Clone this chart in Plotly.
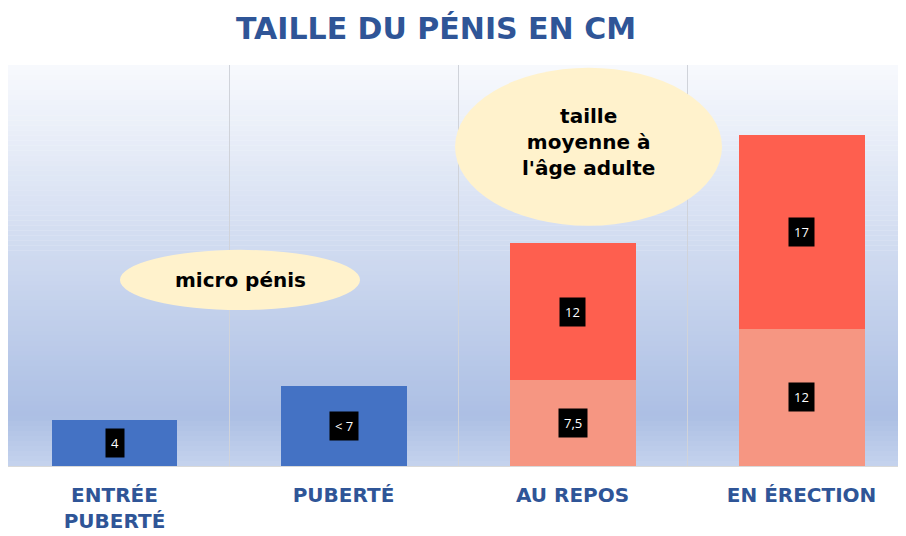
import plotly.graph_objects as go

# Data
categories = ["ENTRÉE<br>PUBERTÉ", "PUBERTÉ", "AU REPOS", "EN ÉRECTION"]
enfant_vals = [4, 7, 0, 0]
enfant_labels = ["4", "< 7", "", ""]
repos_vals = [0, 0, 7.5, 12]
repos_labels = ["", "", "7,5", "12"]
adulte_vals = [0, 0, 12, 17]
adulte_labels = ["", "", "12", "17"]

COLORS = {
    'blue': '#4472C4',
    'salmon': '#F69682',
    'red': '#FE5F4F',
    'title': '#2F5597',
    'bubble': '#FFF2CC',
}

fig = go.Figure()
for vals, col in [(enfant_vals, COLORS['blue']), (repos_vals, COLORS['salmon']), (adulte_vals, COLORS['red'])]:
    fig.add_trace(go.Bar(x=categories, y=vals, marker_color=col, marker_line_width=0,
                         width=0.55, showlegend=False, hoverinfo='skip'))

# value labels in black boxes, centred in each segment
offsets = [0] * len(categories)
for vals, labels in [(enfant_vals, enfant_labels), (repos_vals, repos_labels), (adulte_vals, adulte_labels)]:
    for i, (v, t) in enumerate(zip(vals, labels)):
        if t:
            fig.add_annotation(x=categories[i], y=offsets[i] + v / 2, text=t, showarrow=False,
                               font=dict(family='Open Sans', size=13, color='white'),
                               bgcolor='black', borderpad=5)
        offsets[i] += v

# gradient background made of thin strips
top, mid, bot = (247, 249, 253), (172, 191, 228), (196, 210, 237)
n = 80
shapes = []
for k in range(n):
    f = k / (n - 1)  # 0 at top, 1 at bottom
    if f < 0.88:
        g = f / 0.88
        c = [round(top[j] + (mid[j] - top[j]) * g) for j in range(3)]
    else:
        g = (f - 0.88) / 0.12
        c = [round(mid[j] + (bot[j] - mid[j]) * g) for j in range(3)]
    y1 = 1 - k / n
    y0 = 1 - (k + 1) / n
    shapes.append(dict(type='rect', xref='paper', yref='paper', x0=0, x1=1, y0=y0 - 0.001, y1=y1,
                       fillcolor=f'rgb({c[0]},{c[1]},{c[2]})', line_width=0, layer='below'))

# bubbles
shapes.append(dict(type='circle', xref='paper', yref='paper', x0=0.1247, x1=0.3920, y0=0.389, y1=0.539,
                   fillcolor=COLORS['bubble'], line_width=0, layer='above'))
shapes.append(dict(type='circle', xref='paper', yref='paper', x0=0.4978, x1=0.7951, y0=0.599, y1=0.993,
                   fillcolor=COLORS['bubble'], line_width=0, layer='above'))
fig.add_annotation(xref='paper', yref='paper', x=0.2584, y=0.464, xanchor='center', yanchor='middle',
                   text='<b>micro pénis</b>', showarrow=False,
                   font=dict(family='DejaVu Sans', size=20, color='black'))
fig.add_annotation(xref='paper', yref='paper', x=0.6459, y=0.807, xanchor='center', yanchor='middle',
                   text="<b>taille<br>moyenne à<br>l'âge adulte</b>", showarrow=False,
                   font=dict(family='DejaVu Sans', size=20, color='black'))

fig.update_layout(
    width=898, height=528,
    margin=dict(l=0, r=0, t=57, b=70),
    barmode='stack',
    paper_bgcolor='white', plot_bgcolor='rgba(0,0,0,0)',
    shapes=shapes,
    title=dict(text='<b>TAILLE DU PÉNIS EN CM</b>', x=0.4766, xanchor='center', y=0.962, yanchor='middle',
               font=dict(family='DejaVu Sans', size=30, color=COLORS['title'])),
    xaxis=dict(range=[-0.465, 3.456], tickson='boundaries', showgrid=True, gridcolor='#D0D3DA', gridwidth=1,
               ticks='', showline=True, linecolor='#D9D9D9', ticklabelstandoff=11,
               tickfont=dict(family='DejaVu Sans', size=20, color=COLORS['title'], weight='bold')),
    yaxis=dict(range=[0, 35.1], showgrid=False, showticklabels=False, zeroline=False),
)

fig.write_html("out.html")
